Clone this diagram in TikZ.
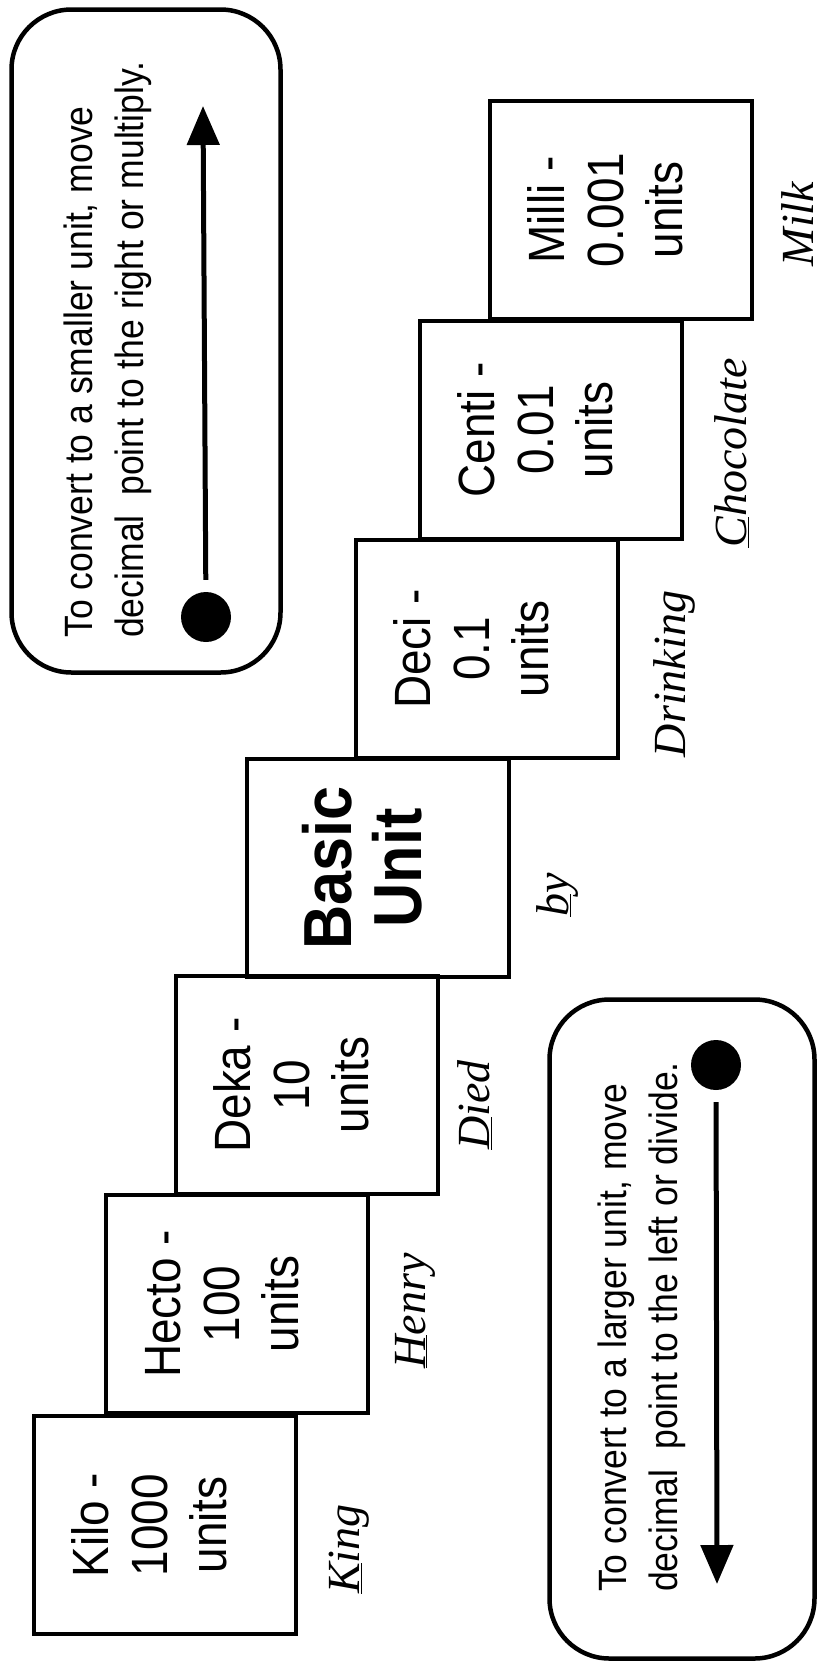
\documentclass[tikz,border=0pt]{standalone}
\usepackage{fontspec}
\setmainfont{Liberation Sans}[FakeStretch=0.9]
\newfontfamily\handfont{Liberation Serif}
\usepackage{tikz}
\usetikzlibrary{arrows.meta}

% lines of a prefix box, set a little off-centre as in the print
\newcommand{\unitlines}[2][3pt]{\raisebox{#1}[0pt][0pt]{\begin{tabular}{@{}c@{}}#2\end{tabular}}}

\tikzset{
    unitbox/.style={draw, line width=4.5pt, rotate=90, minimum width=218pt, minimum height=262pt, inner sep=0pt, font=\fontsize{51}{59}\selectfont},
    rulebox/.style={draw, line width=4.5pt, rounded corners=60pt, rotate=90, inner sep=0pt},
    ruletext/.style={rotate=90, anchor=west, align=left, inner sep=0pt, font=\fontsize{39.5}{51}\selectfont},
    startdot/.style={circle, fill=black, minimum size=50pt, inner sep=0pt},
    moveline/.style={line width=5pt, shorten <=12pt, -{Triangle[length=39pt, width=32pt]}},
    scrawl/.style={rotate=90, inner sep=0pt, font=\handfont\itshape\fontsize{46}{50}\selectfont}
}

\begin{document}
\begin{tikzpicture}[x=1pt, y=-1pt]
    \fill[white] (0,0) rectangle (829,1663);
    \useasboundingbox (0,0) rectangle (829,1663);

    % Staircase of prefixes
    \node[unitbox] (MILLI) at (621, 210) {\unitlines{Milli -\\0.001\\units}};
    \node[unitbox] (CENTI) at (551, 430) {\unitlines{Centi -\\0.01\\units}};
    \node[unitbox] (DECI) at (487, 649) {\unitlines{Deci -\\0.1\\units}};
    \node[unitbox, font=\bfseries\fontsize{68}{69}\selectfont] (BASIC) at (378, 868) {\unitlines[0pt]{Basic\\Unit}};
    \node[unitbox] (DEKA) at (307, 1085) {\unitlines{Deka -\\10\\units}};
    \node[unitbox] (HECTO) at (237, 1304) {\unitlines{Hecto -\\100\\units}};
    \node[unitbox] (KILO) at (165, 1525) {\unitlines{Kilo -\\1000\\units}};

    % Handwritten memory aid
    \node[scrawl] (KING) at (349, 1549) {\underline{K}ing};
    \node[scrawl] (HENRY) at (415, 1311) {\underline{H}enry};
    \node[scrawl] (DIED) at (475, 1105) {\underline{D}ied};
    \node[scrawl] (BY) at (557, 895) {\underline{b}y};
    \node[scrawl] (DRINKING) at (674, 674) {Drinking};
    \node[scrawl] (CHOCOLATE) at (732, 453) {\underline{C}hocolate};
    \node[scrawl] (MILK) at (798, 224) {Milk};

    % Top note: smaller unit
    \node[rulebox, minimum width=663pt, minimum height=269pt] (TO_SMALL) at (146, 341) {};
    \node[ruletext] (TO_SMALL_TXT) at (108, 638) {To convert to a smaller unit, move\\decimal\ \ point to the right or multiply.};
    \node[startdot] (DOT_UP) at (206, 617) {};
    \coordinate (TIP_UP) at (203, 106);

    % Bottom note: larger unit
    \node[rulebox, minimum width=659pt, minimum height=265pt] (TO_LARGE) at (682, 1329) {};
    \node[ruletext] (TO_LARGE_TXT) at (642, 1592) {To convert to a larger unit, move\\decimal\ \ point to the left or divide.};
    \node[startdot] (DOT_DOWN) at (716, 1065) {};
    \coordinate (TIP_DOWN) at (717, 1584);

    % Direction arrows
    \draw[moveline] (DOT_UP) -- (TIP_UP);
    \draw[moveline] (DOT_DOWN) -- (TIP_DOWN);
\end{tikzpicture}
\end{document}
